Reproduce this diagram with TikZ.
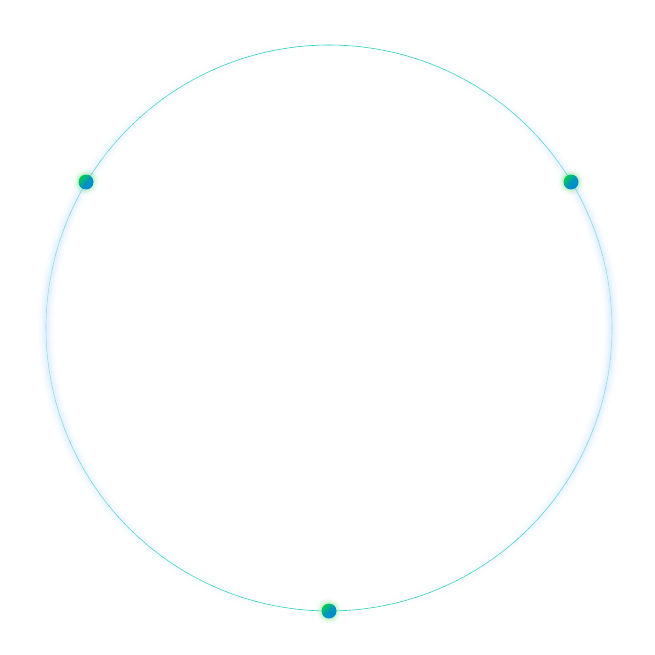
\documentclass[tikz,border=0pt]{standalone}
\usetikzlibrary{calc}
\definecolor{ringgreen}{RGB}{40,210,190}
\definecolor{ringblue}{RGB}{160,220,245}
\definecolor{glowblue}{RGB}{200,228,255}
\definecolor{dotgreen}{RGB}{0,205,80}
\definecolor{dotblue}{RGB}{0,135,215}
\definecolor{haloGreen}{RGB}{60,220,80}
\tikzset{
  dotstyle/.style={circle, minimum size=15pt, inner sep=0pt, top color=dotgreen, bottom color=dotblue, middle color=dotblue!80!dotgreen, shading angle=45},
  halo/.style={circle, fill=haloGreen, inner sep=0pt}
}
\begin{document}
\begin{tikzpicture}[x=1pt,y=-1pt]
\useasboundingbox (0,0) rectangle (655,655);
\fill[white] (0,0) rectangle (655,655);
\coordinate (c) at (329,328);
% glow, stronger at left/right
\foreach \w/\k in {14/0.12, 9/0.18, 5/0.25}{
  \foreach \a in {0,3,...,357}{
    \pgfmathsetmacro{\op}{\k*abs(cos(\a))^3}
    \draw[glowblue, line width=\w pt, opacity=\op] ($(c)+(\a:283)$) arc[start angle=\a, end angle=\a+3, radius=283];
  }
}
% ring, colour by angle
\foreach \a in {0,3,...,357}{
  \pgfmathtruncatemacro{\p}{100*abs(sin(\a+1.5))^1.5}
  \draw[ringgreen!\p!ringblue, line width=0.6pt] ($(c)+(\a:283)$) arc[start angle=\a, end angle=\a+3.2, radius=283];
}
% halos
\foreach \n/\x/\y in {l/86/182, r/571/182, b/329/611}{
  \foreach \s/\o in {26/0.05, 22/0.08, 19/0.12}{
    \node[halo, minimum size=\s pt, opacity=\o] at (\x,\y) {};
  }
  \node[dotstyle] (\n) at (\x,\y) {};
}
\end{tikzpicture}
\end{document}
